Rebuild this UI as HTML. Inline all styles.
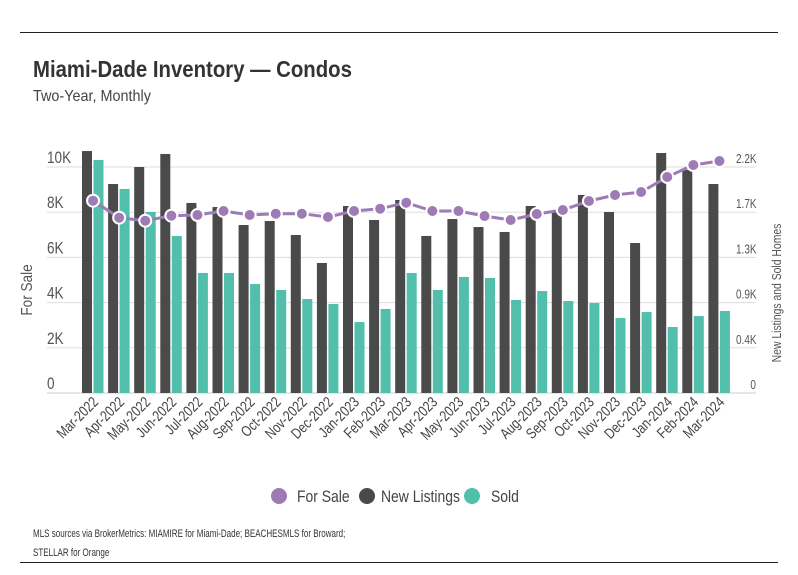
<!DOCTYPE html>
<html><head><meta charset="utf-8">
<style>
body{margin:0;background:#fff;}
#wrap{position:relative;width:798px;height:575px;overflow:hidden;font-family:"Liberation Sans",sans-serif;color:#444;}
.t{position:absolute;white-space:nowrap;transform-origin:0 0;}
.rule{position:absolute;left:20px;width:758px;height:1px;background:#222;}
</style></head>
<body>
<div id="wrap">
<div class="rule" style="top:32px"></div>
<div class="t" style="left:33px;top:56px;font-size:23px;font-weight:bold;color:#333;transform:scaleX(0.885);">Miami-Dade Inventory — Condos</div>
<div class="t" style="left:33px;top:88px;font-size:16px;color:#444;transform:scaleX(0.9);">Two-Year, Monthly</div>
<svg id="chart" width="798" height="575" style="position:absolute;left:0;top:0"></svg>
<div class="t" style="left:33px;top:528px;font-size:11px;color:#333;transform:scaleX(0.73);">MLS sources via BrokerMetrics: MIAMIRE for Miami-Dade; BEACHESMLS for Broward;</div>
<div class="t" style="left:33px;top:547px;font-size:11px;color:#333;transform:scaleX(0.73);">STELLAR for Orange</div>
<div class="rule" style="top:562px"></div>
</div>
<script>
const categories=["Mar-2022","Apr-2022","May-2022","Jun-2022","Jul-2022","Aug-2022","Sep-2022","Oct-2022","Nov-2022","Dec-2022","Jan-2023","Feb-2023","Mar-2023","Apr-2023","May-2023","Jun-2023","Jul-2023","Aug-2023","Sep-2023","Oct-2023","Nov-2023","Dec-2023","Jan-2024","Feb-2024","Mar-2024"];
const forSale=[8509,7757,7624,7845,7876,8053,7876,7934,7934,7788,8053,8155,8420,8053,8053,7832,7655,7920,8097,8496,8761,8894,9558,10088,10265];
const newListings=[2302,1988,2150,2274,1808,1769,1598,1636,1503,1237,1779,1646,1836,1494,1655,1579,1532,1779,1722,1884,1722,1427,2283,2122,1988];
const sold=[2217,1941,1722,1494,1142,1142,1037,980,894,847,675,799,1142,980,1104,1094,885,970,875,856,713,770,628,732,780];
const leftTicks=[0,2000,4000,6000,8000,10000];
const leftTickLabels=["0","2K","4K","6K","8K","10K"];
const rightTicks=[0,430,860,1290,1720,2150];
const rightTickLabels=["0","0.4K","0.9K","1.3K","1.7K","2.2K"];

const svg=document.getElementById('chart');
const NS='http://www.w3.org/2000/svg';
const X0=80,PITCH=26.1,BASE=393,H=226,LMAX=10000,RMAX=2150;
const yL=v=>BASE-v/LMAX*H;
const yR=v=>BASE-v/RMAX*H;
const xC=i=>X0+PITCH*i+PITCH/2;
const FONT='"Liberation Sans",sans-serif';
function mk(tag,attrs,parent){const e=document.createElementNS(NS,tag);for(const k in attrs)e.setAttribute(k,attrs[k]);(parent||svg).appendChild(e);return e;}
function txt(str,x,y,size,anchor,rot,sx){
  const e=mk('text',{x:0,y:0,'font-size':size,fill:'#555','font-family':FONT,'text-anchor':anchor,transform:`translate(${x},${y}) rotate(${rot}) scale(${sx},1)`});
  e.textContent=str;return e;
}

leftTicks.forEach((v,i)=>{
  const g=mk('line',{x1:47,x2:756,y1:yL(v),y2:yL(v),stroke:i==0?'#ccc':'#ddd','stroke-width':1});
  
  
  const t=txt(leftTickLabels[i],47,yL(v)-4,17,'start',0,0.8);
  
  
});
rightTicks.forEach((v,i)=>{
  const t=txt(rightTickLabels[i],i==0?756:736,yR(v)-4,12.5,i==0?'end':'start',0,0.8);
  
  
});
const lt=txt('For Sale',32,290,16,'middle',-90,0.85);


const rt=txt('New Listings and Sold Homes',781,293,13,'middle',-90,0.8);



categories.forEach((c,i)=>{
  const x=X0+PITCH*i+2;
  const b1=mk('rect',{x:x,y:yR(newListings[i]),width:10,height:BASE-yR(newListings[i]),fill:'#4a4a4a'});
  
  
  const b2=mk('rect',{x:x+11.5,y:yR(sold[i]),width:10,height:BASE-yR(sold[i]),fill:'#52bfac'});
  
  
  const t=txt(c,xC(i)+6,403,15,'end',-45,0.8);
  t.setAttribute('fill','#444');
  
  
});
const pl=mk('polyline',{points:forSale.map((v,i)=>xC(i)+','+yL(v)).join(' '),fill:'none',stroke:'#9e7bb5','stroke-width':3});


forSale.forEach((v,i)=>{
  const p=mk('circle',{cx:xC(i),cy:yL(v),r:6,fill:'#9e7bb5',stroke:'#fff','stroke-width':2});
  
  
});
const legend=[[279,'#9e7bb5','For Sale',297],[367,'#4a4a4a','New Listings',381],[472,'#52bfac','Sold',491]];
legend.forEach(l=>{
  const c=mk('circle',{cx:l[0],cy:496,r:8,fill:l[1]});
  
  
  const t=txt(l[2],l[3],502,17,'start',0,0.82);
  t.setAttribute('fill','#444');
  
  
});
</script>
</body></html>
